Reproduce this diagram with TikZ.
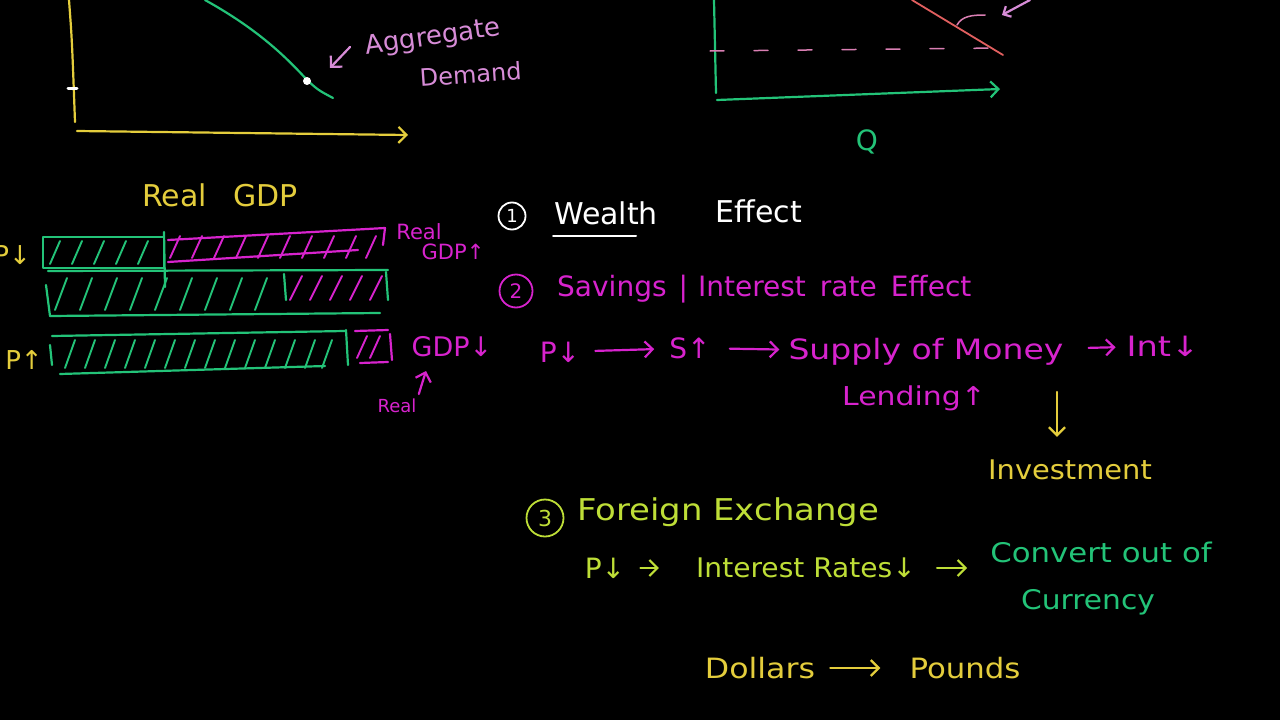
\documentclass[tikz,border=0pt]{standalone}
\usepackage{fontspec}
\usepackage{graphicx}
\setmainfont{DejaVu Sans}
\usetikzlibrary{arrows.meta}
\definecolor{yel}{RGB}{228,205,60}
\definecolor{grn}{RGB}{35,195,120}
\definecolor{mag}{RGB}{215,35,205}
\definecolor{pnk}{RGB}{215,140,215}
\definecolor{lime}{RGB}{190,222,55}
\definecolor{redl}{RGB}{225,95,95}
\newcommand{\hfs}[1]{\fontsize{#1}{#1}\selectfont}
\newcommand{\hx}[2]{\scalebox{#1}[1]{#2}}
\begin{document}
\begin{tikzpicture}[x=1pt,y=-1pt,line cap=round,line join=round,
  txt/.style={inner sep=1pt,text=#1},
  pen/.style={draw=#1,line width=2.2pt},
  harrow/.style={pen=#1,-{Straight Barb[length=8pt,width=16pt,line width=2.2pt]}},
  hatch/.style={draw=#1,line width=1.9pt},
  numc/.style={circle,draw=#1,line width=1.8pt,text=#1,inner sep=1pt}]
\fill[black] (0,0) rectangle (1280,720);
\useasboundingbox (0,0) rectangle (1280,720);

% ---------- top-left graph ----------
\draw[pen=yel] (69,0) .. controls (72,40) .. (75,122);
\draw[white,line width=3pt] (68,88) -- (77,88);
\draw[harrow=yel] (77,131) -- (408,135);
\draw[pen=grn] (205,0) .. controls (250,25) and (280,50) .. (307,80) .. controls (318,90) .. (333,98);
\fill[white] (307,81) circle (4pt);
\coordinate (adtail) at (350,47);
\coordinate (adhead) at (330,68);
\draw[harrow=pnk] (adtail) -- (adhead);
\node[txt=pnk,anchor=west] (agg) at (363,38) {\hfs{26}\rotatebox{8}{Aggregate}};
\node[txt=pnk,anchor=west] (dem) at (418,74) {\hfs{24}\rotatebox{4}{Demand}};

% ---------- top-right graph ----------
\draw[pen=grn] (714,0) -- (716,93);
\draw[harrow=grn] (717,100) -- (1000,89);
\draw[draw=redl,line width=1.8pt] (912,0) -- (1003,55);
\draw[draw=pnk!70!redl,line width=1.5pt,dash pattern=on 14pt off 30pt] (710,51) -- (1000,48);
\draw[draw=pnk!70!redl,line width=1.5pt] (957,25) .. controls (962,16) and (972,15) .. (985,15);
\coordinate (qtail) at (1030,0);
\coordinate (qhead) at (1002,15);
\draw[pen=pnk,-{Straight Barb[length=6pt,width=12pt,line width=2.2pt]}] (qtail) -- (qhead);
\node[txt=grn] (Q) at (867,142) {\hfs{28}Q};

% ---------- bars ----------
\node[txt=yel] (rgdp) at (220,195) {\hfs{30}Real\hspace{26pt}GDP};
\node[txt=yel,anchor=east] (pdown) at (32,255) {\hfs{26}P↓};
\node[txt=yel] (pup) at (24,360) {\hfs{26}P↑};

% bar 1
\draw[pen=grn] (43,237) rectangle (164,268);
\draw[pen=grn] (164,232) -- (165,287);
\foreach \x in {50,72,94,116,138} \draw[hatch=grn] (\x,264) -- (\x+10,241);
\draw[pen=mag] (168,262) -- (358,250);
\draw[pen=mag] (168,240) -- (385,228) -- (383,245);
\foreach \x in {170,192,214,236,258,280,302,324,346,366} \draw[hatch=mag] (\x,258) -- (\x+10,236);
\node[txt=mag] (rl1) at (419,232) {\hfs{21}Real};
\node[txt=mag] (gdpup) at (453,252) {\hfs{21}GDP↑};

% bar 2
\draw[pen=grn] (48,271) -- (388,270);
\draw[pen=grn] (50,316) -- (380,313);
\draw[pen=grn] (46,285) -- (50,316);
\draw[pen=grn] (284,274) -- (286,300);
\draw[pen=grn] (386,272) -- (388,300);
\foreach \x in {55,80,105,130,155,180,205,230,255} \draw[hatch=grn] (\x,310) -- (\x+12,278);
\foreach \x in {290,310,330,350,370} \draw[hatch=mag] (\x,300) -- (\x+12,276);

% bar 3
\draw[pen=grn] (52,336) -- (345,331);
\draw[pen=grn] (60,374) -- (325,366);
\draw[pen=grn] (50,345) -- (52,365);
\draw[pen=grn] (346,330) -- (348,365);
\foreach \x in {65,85,105,125,145,165,185,205,225,245,265,285,305,322} \draw[hatch=grn] (\x,368) -- (\x+10,340);
\draw[pen=mag] (355,331) -- (388,330);
\draw[pen=mag] (360,363) -- (388,362);
\draw[pen=mag] (390,334) -- (392,360);
\foreach \x in {357,370} \draw[hatch=mag] (\x,358) -- (\x+10,336);
\node[txt=mag] (gdpdn) at (452,347) {\hfs{27}GDP↓};
\node[txt=mag] (rl3) at (397,406) {\hfs{18}Real};
\coordinate (rl3tip) at (426,371);
\draw[harrow=mag,shorten <=4pt] (rl3.north east) -- (rl3tip);

% ---------- (1) wealth effect ----------
\node[numc=white,minimum size=27pt] (n1) at (512,216) {\hfs{18}1};
\node[txt=white] (wealth) at (606,213) {\hfs{30}Wealth};
\draw[white,line width=2pt] (553,236) -- (636,236);
\node[txt=white] (eff1) at (759,211) {\hfs{30}Effect};

% ---------- (2) savings ----------
\node[numc=mag,minimum size=33pt] (n2) at (516,291) {\hfs{20}2};
\node[txt=mag,anchor=west] (sav) at (556,289) {\hfs{28}Savings\hspace{12pt}|\hspace{10pt}Interest\hspace{14pt}rate\hspace{14pt}Effect};

\node[txt=mag] (p1) at (560,352) {\hfs{28}P↓};
\node[txt=mag] (s1) at (690,348) {\hfs{28}S↑};
\node[txt=mag] (som) at (926,352) {\hfs{28}\hx{1.18}{Supply of Money}};
\node[txt=mag] (int) at (1163,346) {\hfs{28}\hx{1.2}{Int↓}};
\node[txt=mag] (lend) at (914,398) {\hfs{26}\hx{1.15}{Lending↑}};
\draw[harrow=mag,shorten <=14pt,shorten >=14pt] (p1) -- (s1);
\draw[harrow=mag,shorten <=18pt,shorten >=8pt] (s1) -- (som);
\draw[harrow=mag,shorten <=24pt,shorten >=10pt] (som) -- (int);
\node[txt=yel] (inv) at (1070,470) {\hfs{27}\hx{1.07}{Investment}};
\coordinate (invtop) at (1057,392);
\draw[harrow=yel,shorten >=22pt] (invtop) -- (inv.north -| invtop);

% ---------- (3) foreign exchange ----------
\node[numc=lime,minimum size=37pt] (n3) at (545,518) {\hfs{22}3};
\node[txt=lime,anchor=west] (fx) at (576,512) {\hfs{30}\hx{1.13}{Foreign Exchange}};
\node[txt=lime] (p3) at (605,568) {\hfs{28}P↓};
\node[txt=lime] (ir) at (806,568) {\hfs{27}\hx{1.04}{Interest Rates↓}};
\node[txt=grn] (conv) at (1101,552) {\hfs{27}\hx{1.14}{Convert out of}};
\node[txt=grn] (cur) at (1088,602) {\hfs{27}\hx{1.1}{Currency}};
\draw[harrow=lime,shorten <=14pt,shorten >=36pt] (p3) -- (ir);
\draw[harrow=lime,shorten <=20pt,shorten >=22pt] (ir) -- (conv.west |- ir);

\node[txt=yel] (dol) at (760,668) {\hfs{28}\hx{1.13}{Dollars}};
\node[txt=yel] (pou) at (965,668) {\hfs{28}\hx{1.1}{Pounds}};
\draw[harrow=yel,shorten <=14pt,shorten >=28pt] (dol) -- (pou);
\end{tikzpicture}
\end{document}
